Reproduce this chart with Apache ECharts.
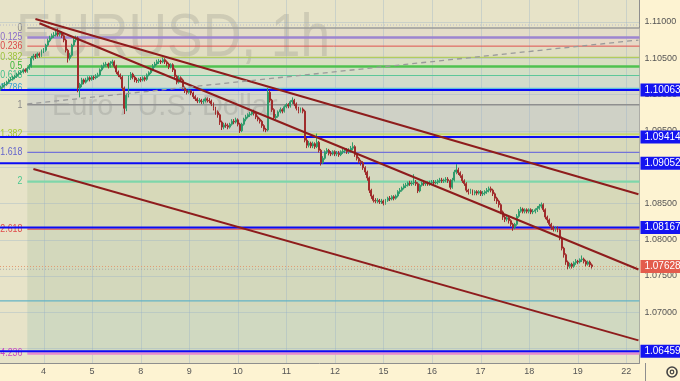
<!DOCTYPE html>
<html><head><meta charset="utf-8">
<script src="https://cdn.jsdelivr.net/npm/echarts@6/dist/echarts.min.js"></script>
<style>html,body{margin:0;padding:0;background:#fdf3d2;}#c{width:680px;height:381px;}</style>
</head><body><div id="c"></div>
<script>
// ---- time axis: hourly slots, weekends skipped ----
const dayNumbers = [3,4,5,8,9,10,11,12,15,16,17,18,19,22];
const firstDayFromHour = 3;
const lastDayToHour = 7;

// ---- hourly candles (EURUSD, 1h) ----
const firstOpen = 1.1008;
const closes = [
1.1010,1.1013,1.1014,1.1017,1.1020,1.1021,1.1024,1.1025,1.1028,1.1030,
1.1031,1.1034,1.1032,1.1036,1.1039,1.1050,1.1053,1.1052,1.1056,1.1054,
1.1060,1.1061,1.1068,1.1074,1.1078,1.1081,1.1082,1.1085,1.1083,1.1085,
1.1081,1.1075,1.1061,1.1050,1.1054,1.1068,1.1075,1.1078,1.1009,1.1014,
1.1020,1.1017,1.1020,1.1023,1.1021,1.1024,1.1023,1.1025,1.1027,1.1034,
1.1039,1.1041,1.1042,1.1039,1.1043,1.1045,1.1039,1.1031,1.1027,1.1024,
1.1009,1.0981,1.0999,1.1023,1.1028,1.1024,1.1020,1.1019,1.1021,1.1020,
1.1023,1.1021,1.1027,1.1030,1.1034,1.1039,1.1042,1.1045,1.1046,1.1045,
1.1048,1.1045,1.1042,1.1038,1.1041,1.1034,1.1025,1.1017,1.1023,1.1020,
1.1009,1.1005,1.1003,1.1005,1.1002,1.0997,1.0994,1.0991,1.0992,1.0990,
1.0991,1.0994,1.0992,1.0991,1.0987,1.0981,1.0976,1.0972,1.0962,1.0955,
1.0958,1.0957,1.0955,1.0959,1.0963,1.0962,1.0965,1.0959,1.0950,1.0959,
1.0966,1.0969,1.0972,1.0973,1.0976,1.0974,1.0969,1.0966,1.0963,1.0957,
1.0952,1.0951,1.1003,1.0992,1.0979,1.0968,1.0970,1.0976,1.0979,1.0977,
1.0983,1.0986,1.0984,1.0990,1.0992,1.0987,1.0981,1.0977,1.0980,1.0977,
1.0937,1.0930,1.0933,1.0929,1.0932,1.0928,1.0934,1.0923,1.0906,1.0912,
1.0921,1.0923,1.0919,1.0918,1.0921,1.0918,1.0919,1.0917,1.0921,1.0922,
1.0923,1.0921,1.0923,1.0926,1.0928,1.0917,1.0912,1.0908,1.0906,1.0899,
1.0893,1.0885,1.0868,1.0860,1.0854,1.0853,1.0854,1.0852,1.0853,1.0850,
1.0854,1.0857,1.0856,1.0859,1.0857,1.0860,1.0866,1.0868,1.0871,1.0874,
1.0875,1.0878,1.0877,1.0878,1.0879,1.0877,1.0867,1.0875,1.0878,1.0877,
1.0878,1.0877,1.0878,1.0879,1.0878,1.0879,1.0881,1.0882,1.0881,1.0882,
1.0883,1.0881,1.0872,1.0882,1.0893,1.0896,1.0892,1.0888,1.0881,1.0877,
1.0868,1.0866,1.0867,1.0864,1.0866,1.0864,1.0866,1.0863,1.0864,1.0866,
1.0868,1.0870,1.0868,1.0863,1.0857,1.0853,1.0848,1.0838,1.0831,1.0828,
1.0830,1.0826,1.0821,1.0817,1.0821,1.0832,1.0839,1.0842,1.0839,1.0841,
1.0839,1.0841,1.0838,1.0839,1.0841,1.0843,1.0846,1.0848,1.0841,1.0831,
1.0827,1.0821,1.0817,1.0814,1.0816,1.0813,1.0802,1.0788,1.0779,1.0769,
1.0763,1.0766,1.0763,1.0768,1.0770,1.0769,1.0772,1.0773,1.0770,1.0766,
1.0769,1.0765,1.07628];
const lows = [
1.1005,1.1008,1.1011,1.1012,1.1015,1.1018,1.1019,1.1021,1.1023,1.1026,
1.1027,1.1029,1.1030,1.1030,1.1034,1.1037,1.1047,1.1049,1.1050,1.1051,
1.1052,1.1057,1.1059,1.1066,1.1072,1.1076,1.1078,1.1080,1.1080,1.1080,
1.1078,1.1072,1.1058,1.1044,1.1047,1.1052,1.1066,1.1072,1.1003,1.0996,
1.1010,1.1014,1.1015,1.1018,1.1018,1.1019,1.1020,1.1021,1.1023,1.1025,
1.1032,1.1036,1.1038,1.1036,1.1037,1.1040,1.1036,1.1028,1.1024,1.1021,
1.1005,1.0973,1.0977,1.0996,1.1020,1.1021,1.1017,1.1016,1.1016,1.1017,
1.1018,1.1018,1.1019,1.1025,1.1028,1.1032,1.1037,1.1040,1.1042,1.1042,
1.1043,1.1042,1.1039,1.1035,1.1036,1.1031,1.1022,1.1014,1.1015,1.1017,
1.1006,1.1002,1.1000,1.1001,1.0999,1.0994,1.0991,1.0988,1.0988,1.0987,
1.0987,1.0989,1.0989,1.0988,1.0984,1.0978,1.0972,1.0968,1.0958,1.0951,
1.0952,1.0954,1.0952,1.0953,1.0957,1.0959,1.0960,1.0956,1.0947,1.0948,
1.0957,1.0963,1.0967,1.0969,1.0971,1.0971,1.0966,1.0963,1.0960,1.0954,
1.0949,1.0948,1.0949,1.0989,1.0976,1.0965,1.0965,1.0968,1.0974,1.0974,
1.0975,1.0981,1.0981,1.0982,1.0987,1.0984,1.0978,1.0974,1.0975,1.0974,
1.0934,1.0926,1.0927,1.0926,1.0926,1.0925,1.0926,1.0920,1.0902,1.0904,
1.0910,1.0918,1.0916,1.0915,1.0916,1.0915,1.0915,1.0914,1.0915,1.0918,
1.0919,1.0918,1.0918,1.0920,1.0923,1.0914,1.0909,1.0905,1.0902,1.0896,
1.0889,1.0881,1.0864,1.0856,1.0851,1.0850,1.0850,1.0849,1.0849,1.0847,
1.0848,1.0852,1.0853,1.0854,1.0854,1.0855,1.0858,1.0863,1.0866,1.0869,
1.0871,1.0873,1.0874,1.0874,1.0875,1.0874,1.0864,1.0865,1.0873,1.0874,
1.0874,1.0874,1.0874,1.0875,1.0875,1.0876,1.0876,1.0878,1.0878,1.0878,
1.0879,1.0878,1.0869,1.0870,1.0880,1.0890,1.0889,1.0885,1.0878,1.0874,
1.0865,1.0862,1.0863,1.0861,1.0861,1.0861,1.0862,1.0860,1.0860,1.0861,
1.0863,1.0865,1.0865,1.0860,1.0853,1.0849,1.0844,1.0835,1.0827,1.0824,
1.0825,1.0822,1.0818,1.0812,1.0814,1.0819,1.0830,1.0837,1.0836,1.0836,
1.0836,1.0836,1.0835,1.0835,1.0836,1.0838,1.0841,1.0843,1.0838,1.0828,
1.0823,1.0818,1.0813,1.0811,1.0811,1.0810,1.0799,1.0785,1.0775,1.0765,
1.0759,1.0760,1.0760,1.0761,1.0765,1.0766,1.0767,1.0769,1.0767,1.0763,
1.0764,1.0762,1.0760];
const highs = [
1.1012,1.1015,1.1017,1.1019,1.1022,1.1024,1.1026,1.1027,1.1030,1.1032,
1.1033,1.1036,1.1036,1.1038,1.1042,1.1053,1.1056,1.1056,1.1058,1.1058,
1.1062,1.1064,1.1070,1.1077,1.1081,1.1084,1.1086,1.1090,1.1091,1.1088,
1.1087,1.1083,1.1077,1.1063,1.1057,1.1070,1.1078,1.1081,1.1080,1.1016,
1.1023,1.1022,1.1023,1.1025,1.1025,1.1026,1.1026,1.1028,1.1030,1.1036,
1.1041,1.1044,1.1045,1.1044,1.1046,1.1048,1.1047,1.1041,1.1033,1.1029,
1.1026,1.1011,1.1002,1.1026,1.1031,1.1030,1.1026,1.1023,1.1023,1.1024,
1.1025,1.1025,1.1029,1.1032,1.1036,1.1042,1.1045,1.1048,1.1049,1.1048,
1.1051,1.1050,1.1047,1.1044,1.1043,1.1043,1.1036,1.1027,1.1026,1.1025,
1.1022,1.1011,1.1007,1.1007,1.1007,1.1004,1.0999,1.0996,1.0995,1.0994,
1.0994,1.0996,1.0996,1.0995,1.0993,1.0989,1.0983,1.0978,1.0974,1.0964,
1.0961,1.0961,1.0960,1.0961,1.0966,1.0966,1.0968,1.0967,1.0961,1.0961,
1.0968,1.0972,1.0974,1.0976,1.0978,1.0979,1.0976,1.0971,1.0968,1.0965,
1.0959,1.0954,1.1009,1.1006,1.0994,1.0981,1.0973,1.0978,1.0982,1.0981,
1.0985,1.0988,1.0988,1.0992,1.0996,1.0994,1.0989,1.0983,1.0982,1.0982,
1.0979,1.0940,1.0936,1.0935,1.0935,1.0934,1.0946,1.0936,1.0925,1.0915,
1.0923,1.0926,1.0925,1.0922,1.0923,1.0923,1.0922,1.0922,1.0923,1.0925,
1.0926,1.0926,1.0926,1.0929,1.0934,1.0930,1.0919,1.0914,1.0910,1.0908,
1.0901,1.0895,1.0887,1.0870,1.0862,1.0857,1.0857,1.0856,1.0856,1.0855,
1.0856,1.0859,1.0860,1.0861,1.0861,1.0862,1.0868,1.0871,1.0873,1.0877,
1.0878,1.0880,1.0881,1.0881,1.0890,1.0882,1.0879,1.0877,1.0880,1.0881,
1.0880,1.0880,1.0881,1.0882,1.0882,1.0882,1.0883,1.0885,1.0885,1.0884,
1.0886,1.0886,1.0883,1.0885,1.0896,1.0904,1.0899,1.0894,1.0890,1.0883,
1.0879,1.0870,1.0870,1.0869,1.0868,1.0868,1.0868,1.0868,1.0867,1.0868,
1.0871,1.0873,1.0873,1.0870,1.0865,1.0859,1.0855,1.0850,1.0840,1.0834,
1.0833,1.0832,1.0828,1.0823,1.0823,1.0835,1.0842,1.0845,1.0844,1.0843,
1.0843,1.0843,1.0843,1.0842,1.0843,1.0846,1.0849,1.0851,1.0850,1.0843,
1.0833,1.0829,1.0823,1.0819,1.0818,1.0818,1.0815,1.0804,1.0790,1.0781,
1.0771,1.0768,1.0768,1.0770,1.0773,1.0772,1.0774,1.0778,1.0775,1.0772,
1.0771,1.0771,1.0767];

// ---- price axis ticks ----
const yTicks = [1.065,1.070,1.075,1.080,1.085,1.090,1.095,1.100,1.105,1.110];
const yMin = 1.06297, yMax = 1.11303;

// ---- Fibonacci extension tool ----
const fibStartIndex = 13;
const fibZeroPrice = 1.10917;
const fibOnePrice = 1.09857;
const fibLevels = [0,0.125,0.236,0.382,0.5,0.618,0.786,1,1.382,1.618,2,2.618,3.618,4.236];
const fibLabels = ['0','0.125','0.236','0.382','0.5','0.618','0.786','1','1.382','1.618','2','2.618','','4.236'];
const fibLineColors = ['#9b9b9b','#9d85d0','#e0504e','#b2cc5e','#4fc24f','#5cc79a','#62bfe0','#8f8f8f','#c2d84e','#7474d8','#7ed6aa','#e05050','rgba(0,0,0,0)','#e38ad2'];
const fibLabelColors = ['#8a8a8a','#8a6cc8','#da4a48','#9cc23a','#35b635','#42bf8c','#3aa2d2','#8a8a8a','#a6c632','#6464cc','#4cc890','#e04c4c','#000','#cc48c4'];
const fibLineWidths = [1.5,2.5,1,1.3,2.5,1.2,1.4,1.5,1.3,1.2,2.2,1.2,0,2.5];
const fibZoneColors = ['#e4ddc8','#e7d9c6','#e1dec3','#d9dfc2','#d3dfc6','#d2dccc','#d6d7cb','#cfd1c6','#d8d9ba','#d4d8bf','#d7d9b9','#d3d8bc','#d0d9c1'];

// ---- horizontal price levels ----
const keyLevels = [1.10063,1.09414,1.09052,1.08167,1.06459];
const lastPrice = 1.07628;
const extraLevels = [1.10958, 1.07590];
const cyanLevel = 1.07155;

// ---- trend channel & dashed line: [slotIndex, price] endpoints ----
const channelUpper = [[17,1.11041],[315,1.08624]];
const channelMiddle = [[19,1.10983],[315,1.07586]];
const channelLower = [[16,1.08972],[315,1.06609]];
const dashedLine = [[13,1.09869],[315,1.10751]];

// ---- build ----
const categories = [];
const dayStartIdx = [];
dayNumbers.forEach((d,k)=>{
  const h0 = k===0 ? firstDayFromHour : 0;
  const h1 = k===dayNumbers.length-1 ? lastDayToHour : 24;
  for (let h=h0; h<h1; h++){
    if (h===0) dayStartIdx.push(categories.length);
    categories.push(d + ' ' + String(h).padStart(2,'0') + ':00');
  }
});
const candleData = closes.map((c,i)=>[i===0?firstOpen:closes[i-1], c, lows[i], highs[i]]);
const fibPrice = L => fibZeroPrice + (fibOnePrice - fibZeroPrice) * L;
const zoneData = fibZoneColors.map((c,k)=>[fibStartIndex, fibPrice(fibLevels[k]), fibPrice(fibLevels[k+1])]);
const fibData = fibLevels.map(L=>[fibStartIndex, fibPrice(L)]);

const FONT = "'Liberation Sans',Arial,sans-serif";
const hLines = [
  ...keyLevels.map(v=>({v, color:'#0b0bf5', w:2, dash:null, label:v.toFixed(5), bg:'#1414f0'})),
  {v:lastPrice, color:'#e39a72', w:1, dash:[1,2], label:lastPrice.toFixed(5), bg:'#e35c4c'},
  {v:extraLevels[0], color:'#b9bccb', w:1, dash:[1,2], label:null},
  {v:extraLevels[1], color:'#aaa9a0', w:1, dash:[1,2], label:null},
  {v:cyanLevel, color:'#63b3c6', w:1.3, dash:null, label:null}
];

const chart = echarts.init(document.getElementById('c'), null, {width:680, height:381});
const lineSeries = (data, color, width, type, z) => ({
  type:'line', data, symbol:'none', showSymbol:false, silent:true, z,
  lineStyle:{color, width, type}, animation:false
});

chart.setOption({
  animation:false,
  backgroundColor:'#fdf3d2',
  grid:{left:0, right:35, top:0, bottom:18, show:true, backgroundColor:'#e7e3c8', borderWidth:0},
  xAxis:{
    type:'category', data:categories, boundaryGap:true,
    axisLine:{show:true, lineStyle:{color:'#8e8e8e'}},
    axisTick:{show:false},
    splitLine:{show:false},
    axisLabel:{
      interval:(i,v)=>v.endsWith(' 00:00'),
      formatter:v=>v.split(' ')[0],
      color:'#555', fontSize:9, margin:4, fontFamily:FONT
    }
  },
  yAxis:{
    type:'value', position:'right', min:yMin, max:yMax, scale:true,
    axisLine:{show:true, lineStyle:{color:'#8e8e8e'}},
    axisTick:{show:false},
    splitLine:{show:false},
    axisLabel:{customValues:yTicks, formatter:v=>v.toFixed(5), color:'#555', fontSize:9, margin:5, fontFamily:FONT}
  },
  graphic:[
    {type:'text', x:16, y:8, scaleX:0.86, z:2, silent:true,
     style:{text:'EURUSD, 1h', fontSize:62, fontFamily:'Liberation Sans', fill:'rgba(95,95,95,0.18)', align:'left', verticalAlign:'top', textAlign:'left', textVerticalAlign:'top'}},
    {type:'text', x:52, y:92, z:2, silent:true,
     style:{text:'Euro / U.S. Dollar', fontSize:29, fontFamily:'Liberation Sans', fill:'rgba(95,95,95,0.18)', align:'left', verticalAlign:'top', textAlign:'left', textVerticalAlign:'top'}},
    {type:'line', z:10, silent:true, shape:{x1:645.5, y1:363, x2:645.5, y2:381}, style:{stroke:'#8e8e8e', lineWidth:1}},
    {type:'circle', z:10, silent:true, shape:{cx:672, cy:372, r:5}, style:{fill:'none', stroke:'#444', lineWidth:1.6}},
    {type:'circle', z:10, silent:true, shape:{cx:672, cy:372, r:1.8}, style:{fill:'none', stroke:'#444', lineWidth:1.2}}
  ],
  series:[
    { // fib zones
      type:'custom', z:1, silent:true, data:zoneData, encode:{x:0, y:[1,2]},
      renderItem:(params, api)=>{
        const cs = params.coordSys;
        const a = api.coord([api.value(0), api.value(1)]);
        const b = api.coord([api.value(0), api.value(2)]);
        return {type:'rect', shape:{x:a[0], y:a[1], width:cs.x+cs.width-a[0], height:b[1]-a[1]}, style:{fill:fibZoneColors[params.dataIndex]}};
      }
    },
    { // horizontal grid
      type:'custom', z:2, silent:true, data:yTicks.map(v=>[0,v]), encode:{x:0,y:1},
      renderItem:(params, api)=>{
        const cs = params.coordSys;
        const p = api.coord([0, api.value(1)]);
        return {type:'line', shape:{x1:cs.x, y1:Math.round(p[1])+0.5, x2:cs.x+cs.width, y2:Math.round(p[1])+0.5}, style:{stroke:'rgba(150,175,200,0.35)', lineWidth:1}};
      }
    },
    { // vertical grid
      type:'custom', z:2, silent:true, data:dayStartIdx.map(i=>[i, yTicks[0]]), encode:{x:0,y:1},
      renderItem:(params, api)=>{
        const cs = params.coordSys;
        const p = api.coord([api.value(0), api.value(1)]);
        const x = Math.round(p[0])+0.5;
        return {type:'line', shape:{x1:x, y1:cs.y, x2:x, y2:cs.y+cs.height}, style:{stroke:'rgba(150,175,200,0.35)', lineWidth:1}};
      }
    },
    { // fib lines & labels
      type:'custom', z:3, silent:true, data:fibData, encode:{x:0,y:1},
      renderItem:(params, api)=>{
        const cs = params.coordSys; const k = params.dataIndex;
        const p = api.coord([api.value(0), api.value(1)]);
        const ch = [];
        if (fibLineWidths[k] > 0) ch.push({type:'line', shape:{x1:p[0], y1:p[1], x2:cs.x+cs.width, y2:p[1]}, style:{stroke:fibLineColors[k], lineWidth:fibLineWidths[k]}});
        if (fibLabels[k]) ch.push({type:'text', x:p[0]-5, y:p[1], scaleX:0.88,
          style:{x:0, y:0, text:fibLabels[k], fill:fibLabelColors[k], fontSize:10, fontFamily:FONT, align:'right', verticalAlign:'middle', textAlign:'right', textVerticalAlign:'middle'}});
        return {type:'group', children:ch};
      }
    },
    { // horizontal levels with price tags
      type:'custom', z:4, silent:true, data:hLines.map(h=>[0,h.v]), encode:{x:0,y:1},
      renderItem:(params, api)=>{
        const cs = params.coordSys; const h = hLines[params.dataIndex];
        const p = api.coord([0, api.value(1)]);
        const ch = [{type:'line', shape:{x1:cs.x, y1:p[1], x2:cs.x+cs.width, y2:p[1]}, style:{stroke:h.color, lineWidth:h.w, lineDash:h.dash}}];
        if (h.label) ch.push({type:'text', z2:10, style:{x:cs.x+cs.width+1, y:p[1], text:h.label, fill:'#fff', fontSize:10, fontFamily:FONT, backgroundColor:h.bg, padding:[2,4,1,4], align:'left', verticalAlign:'middle', textAlign:'left', textVerticalAlign:'middle'}});
        return {type:'group', children:ch};
      }
    },
    {
      type:'candlestick', z:5, data:candleData, barWidth:'72%', silent:true,
      itemStyle:{color:'#2f9c6c', color0:'#a02c2c', borderColor:'#2f9c6c', borderColor0:'#a02c2c', borderWidth:1}
    },
    lineSeries(channelUpper, '#8e1c1c', 2, 'solid', 6),
    lineSeries(channelMiddle, '#8e1c1c', 2, 'solid', 6),
    lineSeries(channelLower, '#8e1c1c', 2, 'solid', 6),
    lineSeries(dashedLine, '#9a9a9a', 1.3, [5,4], 6)
  ]
});
</script>
</body></html>
